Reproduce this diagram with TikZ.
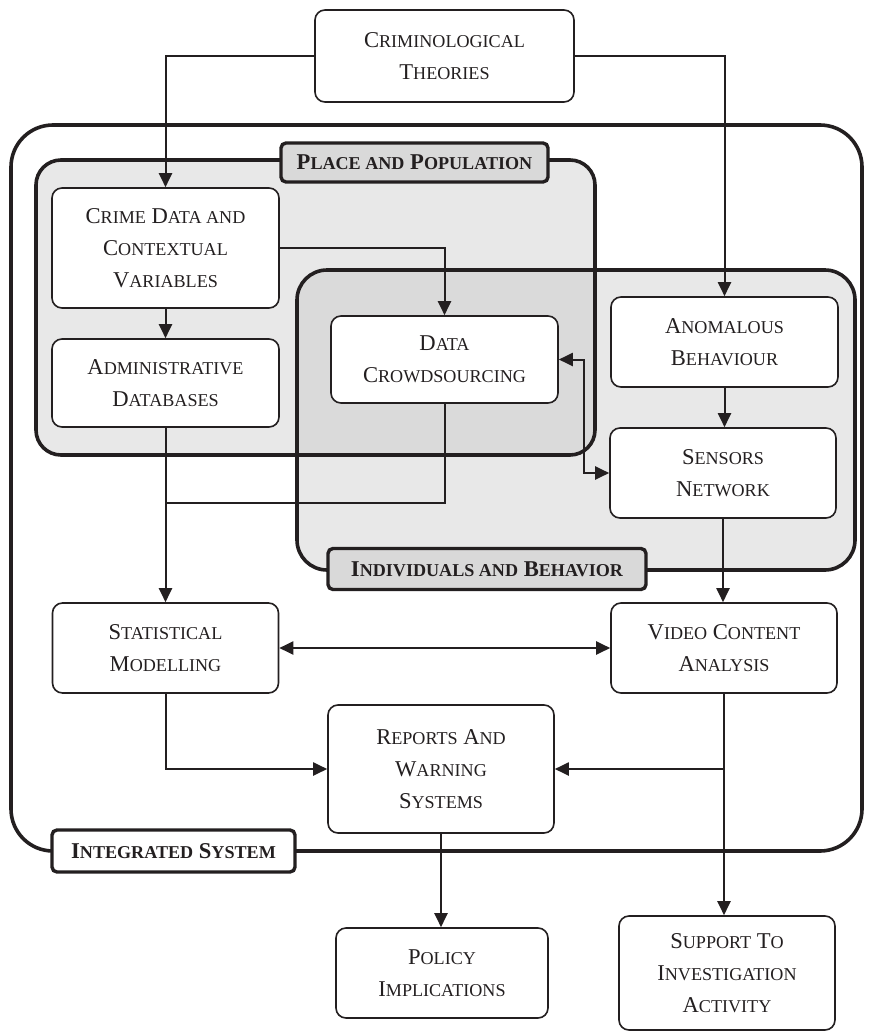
\documentclass[tikz,border=0pt]{standalone}
\usepackage{fontspec}
\setmainfont{Liberation Serif}
\usetikzlibrary{arrows.meta}
\newcommand\sm[1]{{\fontsize{18.1pt}{32pt}\selectfont #1}}
\definecolor{ppfill}{HTML}{E8E8E8}
\definecolor{ovfill}{HTML}{DADADA}
\definecolor{lblfill}{HTML}{D9D9D9}
\definecolor{ink}{HTML}{231F20}
\tikzset{
  box/.style={draw=ink, line width=1.6pt, rounded corners=10pt, fill=white, align=center,
    font=\fontsize{22.6pt}{32pt}\selectfont, inner sep=0pt, text=ink},
  container/.style={draw=ink, line width=3.6pt},
  lbl/.style={draw=ink, line width=3.4pt, rounded corners=5pt, align=center, inner sep=0pt,
    font=\fontsize{22.6pt}{32pt}\selectfont\bfseries, text=ink},
  conn/.style={draw=ink, line width=2pt},
  arr/.style={conn, -{Triangle[length=14pt,width=13pt]}},
  darr/.style={conn, {Triangle[length=14pt,width=13pt]}-{Triangle[length=14pt,width=13pt]}},
}
\begin{document}
\begin{tikzpicture}[x=1pt,y=-1pt]
\useasboundingbox (0,0) rectangle (873,1033);
% containers
\draw[container, rounded corners=42pt, fill=white] (11,125) rectangle (862,851);
\fill[ppfill, rounded corners=25pt] (36,160) rectangle (595,455);
\fill[ppfill, rounded corners=30pt] (297,270) rectangle (855,570);
\begin{scope}
  \clip[rounded corners=25pt] (36,160) rectangle (595,455);
  \fill[ovfill, rounded corners=30pt] (297,270) rectangle (855,570);
\end{scope}
\draw[container, rounded corners=25pt] (36,160) rectangle (595,455);
\draw[container, rounded corners=30pt] (297,270) rectangle (855,570);
% labels
\node[lbl, fill=lblfill, minimum width=267pt, minimum height=39pt] (pplbl) at (414.5,162.5)
  {P\sm{LACE AND} P\sm{OPULATION}};
\node[lbl, fill=lblfill, minimum width=318pt, minimum height=41pt] (iblbl) at (487,569)
  {I\sm{NDIVIDUALS AND} B\sm{EHAVIOR}};
\node[lbl, fill=white, minimum width=243pt, minimum height=42pt] (intlbl) at (173.5,851)
  {I\sm{NTEGRATED} S\sm{YSTEM}};
% nodes
\node[box, minimum width=259pt, minimum height=92pt] (theo) at (444.5,56)
  {C\sm{RIMINOLOGICAL}\\T\sm{HEORIES}};
\node[box, minimum width=227pt, minimum height=120pt] (crime) at (165.5,248)
  {C\sm{RIME} D\sm{ATA AND}\\C\sm{ONTEXTUAL}\\V\sm{ARIABLES}};
\node[box, minimum width=227pt, minimum height=88pt] (admin) at (165.5,383)
  {A\sm{DMINISTRATIVE}\\D\sm{ATABASES}};
\node[box, minimum width=227pt, minimum height=87pt] (crowd) at (444.5,359.5)
  {D\sm{ATA}\\C\sm{ROWDSOURCING}};
\node[box, minimum width=227pt, minimum height=90pt] (anom) at (724.5,342)
  {A\sm{NOMALOUS}\\B\sm{EHAVIOUR}};
\node[box, minimum width=226pt, minimum height=90pt] (sens) at (723,473)
  {S\sm{ENSORS}\\N\sm{ETWORK}};
\node[box, minimum width=226pt, minimum height=90pt] (stat) at (165.5,648)
  {S\sm{TATISTICAL}\\M\sm{ODELLING}};
\node[box, minimum width=226pt, minimum height=90pt] (video) at (724,648)
  {V\sm{IDEO} C\sm{ONTENT}\\A\sm{NALYSIS}};
\node[box, minimum width=226pt, minimum height=128pt] (rep) at (441,769)
  {R\sm{EPORTS} A\sm{ND}\\W\sm{ARNING}\\S\sm{YSTEMS}};
\node[box, minimum width=212pt, minimum height=90pt] (pol) at (442,973)
  {P\sm{OLICY}\\I\sm{MPLICATIONS}};
\node[box, minimum width=216pt, minimum height=114pt] (supp) at (727,973)
  {S\sm{UPPORT} T\sm{O}\\I\sm{NVESTIGATION}\\A\sm{CTIVITY}};
% connectors
\draw[arr] (theo.west) -| (crime.north);
\draw[arr] (theo.east) -| (anom.north);
\draw[arr] (crime.east) -| (crowd.north);
\draw[arr] (crime.south) -- (admin.north);
\draw[arr] (admin.south) -- (stat.north);
\coordinate (j1) at (165.5,503);
\draw[conn] (crowd.south) |- (j1);
\draw[darr] (crowd.east) -- ++(25,0) |- (sens.west);
\draw[arr] (anom.south) -- (anom.south |- sens.north);
\draw[arr] (sens.south) -- (sens.south |- video.north);
\draw[darr] (stat.east) -- (video.west);
\draw[arr] (stat.south) |- (rep.west);
\draw[arr] (video.south) -- (video.south |- supp.north);
\coordinate (j2) at (video.south |- rep.east);
\draw[arr] (j2) -- (rep.east);
\draw[arr] (rep.south) -- (rep.south |- pol.north);
\end{tikzpicture}
\end{document}
